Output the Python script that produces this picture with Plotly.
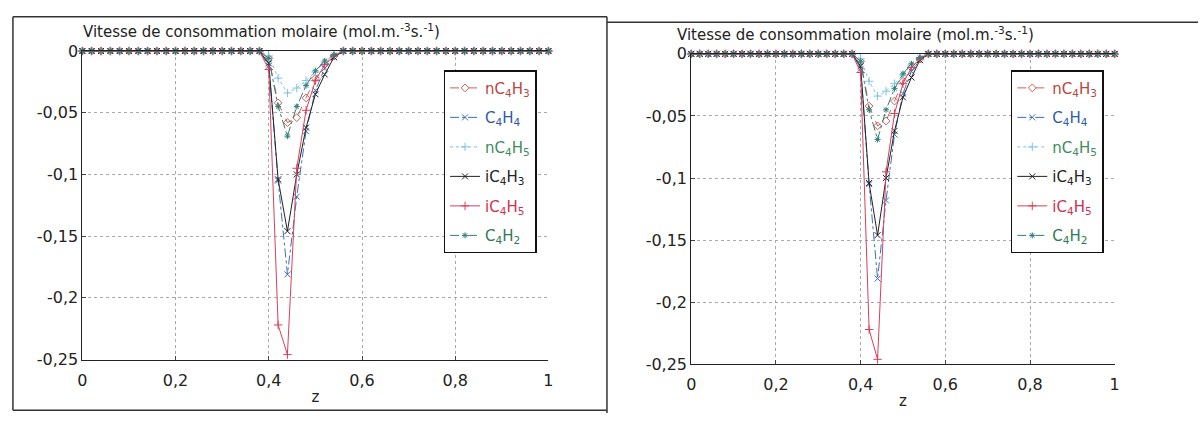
import plotly.graph_objects as go

W, H = 1203, 423

# abscisse z (pas 0,02)
Z = [0.00, 0.02, 0.04, 0.06, 0.08, 0.10, 0.12, 0.14, 0.16, 0.18,
     0.20, 0.22, 0.24, 0.26, 0.28, 0.30, 0.32, 0.34, 0.36, 0.38,
     0.40, 0.42, 0.44, 0.46, 0.48, 0.50, 0.52, 0.54, 0.56, 0.58,
     0.60, 0.62, 0.64, 0.66, 0.68, 0.70, 0.72, 0.74, 0.76, 0.78,
     0.80, 0.82, 0.84, 0.86, 0.88, 0.90, 0.92, 0.94, 0.96, 0.98, 1.00]

ZEROS_A = [0, 0, 0, 0, 0, 0, 0, 0, 0, 0, 0, 0, 0, 0, 0, 0, 0, 0, 0, 0]
ZEROS_B = [0, 0, 0, 0, 0, 0, 0, 0, 0, 0, 0, 0, 0, 0, 0, 0, 0, 0, 0, 0, 0, 0, 0]

# valeurs non nulles pour z = 0,40 ... 0,54
nC4H3 = ZEROS_A + [-0.006, -0.042, -0.058, -0.054, -0.038, -0.022, -0.011, -0.004] + ZEROS_B
C4H4 = ZEROS_A + [-0.012, -0.105, -0.181, -0.118, -0.065, -0.032, -0.014, -0.005] + ZEROS_B
nC4H5 = ZEROS_A + [-0.004, -0.022, -0.034, -0.030, -0.024, -0.017, -0.009, -0.003] + ZEROS_B
iC4H3 = ZEROS_A + [-0.010, -0.104, -0.146, -0.100, -0.062, -0.035, -0.019, -0.005] + ZEROS_B
iC4H5 = ZEROS_A + [-0.015, -0.222, -0.246, -0.095, -0.048, -0.024, -0.011, -0.004] + ZEROS_B
C4H2 = ZEROS_A + [-0.006, -0.045, -0.069, -0.045, -0.028, -0.016, -0.008, -0.003] + ZEROS_B

X_TICKS = [0, 0.2, 0.4, 0.6, 0.8, 1]
X_LABELS = ['0', '0,2', '0,4', '0,6', '0,8', '1']
Y_TICKS = [0, -0.05, -0.1, -0.15, -0.2, -0.25]
Y_LABELS = ['0', '-0,05', '-0,1', '-0,15', '-0,2', '-0,25']

TITLE = 'Vitesse de consommation molaire (mol.m.<sup>-3</sup>s.<sup>-1</sup>)'

# (nom, données, couleur ligne, couleur texte, dash, symbole)
SERIES = [
    ('nC<sub>4</sub>H<sub>3</sub>', nC4H3, '#d0605a', '#b8473f', 'dash', 'diamond-open'),
    ('C<sub>4</sub>H<sub>4</sub>', C4H4, '#3a6fc0', '#2f5aa8', 'dashdot', 'x-thin-open'),
    ('nC<sub>4</sub>H<sub>5</sub>', nC4H5, '#7fc4e0', '#3f8a5e', 'dot', 'cross-thin-open'),
    ('iC<sub>4</sub>H<sub>3</sub>', iC4H3, '#222222', '#222222', 'solid', 'x-thin-open'),
    ('iC<sub>4</sub>H<sub>5</sub>', iC4H5, '#d8405a', '#d03050', 'solid', 'cross-thin-open'),
    ('C<sub>4</sub>H<sub>2</sub>', C4H2, '#2f8078', '#2f7a55', 'dashdot', 'asterisk-open'),
]

FONT = 'DejaVu Sans, Liberation Sans, Arial, sans-serif'


def px(x):
    return x / W


def py(y):
    return 1 - y / H


# panneaux : (x gauche, x droite, y haut, y bas) en pixels
PANELS = [(78, 548, 44, 367), (692, 1119, 47, 372)]
LEGENDS = [(536, 64), (1108, 64)]
TITLES = [(77, 36), (676, 39)]

fig = go.Figure()
layout = dict(width=W, height=H, margin=dict(l=0, r=0, t=0, b=0),
              paper_bgcolor='white', plot_bgcolor='white',
              font=dict(family=FONT, size=15, color='#222'))
annotations = []
for i, (xl, xr, yt, yb) in enumerate(PANELS):
    ax = '' if i == 0 else str(i + 1)
    leg = 'legend' if i == 0 else 'legend' + str(i + 1)
    for k, (name, vals, col, tcol, dash, sym) in enumerate(SERIES):
        fig.add_trace(go.Scatter(
            x=Z, y=vals, mode='lines+markers', xaxis='x' + ax, yaxis='y' + ax,
            name=f'<span style="color:{tcol}">{name}</span>',
            line=dict(color=col, width=1, dash=dash),
            marker=dict(symbol=sym, size=6 if sym != 'asterisk-open' else 5,
                        color=col, line=dict(width=1, color=col)),
            cliponaxis=False, legend=leg, legendgroup=f'{i}-{k}'))
    layout['xaxis' + ax] = dict(
        domain=[px(xl), px(xr)], anchor='y' + ax, range=[0, 1],
        tickvals=X_TICKS, ticktext=X_LABELS, ticks='inside', ticklen=4,
        ticklabelstandoff=6,
        showline=True, linecolor='#222', linewidth=1, mirror=True,
        showgrid=True, gridcolor='#aaa', griddash='dot', gridwidth=1,
        zeroline=False, title=dict(text='z', standoff=2, font=dict(size=15)),
        tickfont=dict(size=16))
    layout['yaxis' + ax] = dict(
        domain=[py(yb), py(yt)], anchor='x' + ax, range=[-0.25, 0],
        tickvals=Y_TICKS, ticktext=Y_LABELS, ticks='inside', ticklen=4,
        showline=True, linecolor='#222', linewidth=1,
        showgrid=True, gridcolor='#aaa', griddash='dot', gridwidth=1,
        zeroline=False, tickfont=dict(size=16))
    lx, ly = LEGENDS[i]
    layout[leg] = dict(x=px(lx), y=py(ly), xanchor='right', yanchor='top',
                       bordercolor='#111', borderwidth=1.5, bgcolor='white',
                       font=dict(size=15), tracegroupgap=7, itemwidth=30)
    tx, ty = TITLES[i]
    annotations.append(dict(text=TITLE, x=px(tx), y=py(ty), xref='paper', yref='paper',
                            xanchor='left', yanchor='bottom', showarrow=False,
                            font=dict(size=15, color='#222')))

shapes = []
for x0, y0, x1, y1 in [(8, 8, 607, 8), (8, 8, 8, 420), (8, 420, 607, 420),
                       (607, 8, 607, 423), (607, 14, 1203, 14)]:
    shapes.append(dict(type='line', xref='paper', yref='paper',
                       x0=px(x0), y0=py(y0), x1=px(x1), y1=py(y1),
                       line=dict(color='#333', width=1.5)))
layout['annotations'] = annotations
layout['shapes'] = shapes
layout['showlegend'] = True
fig.update_layout(**layout)

fig.write_html('out.html', config={'displayModeBar': False},
               post_script="document.body.style.margin='0';")
